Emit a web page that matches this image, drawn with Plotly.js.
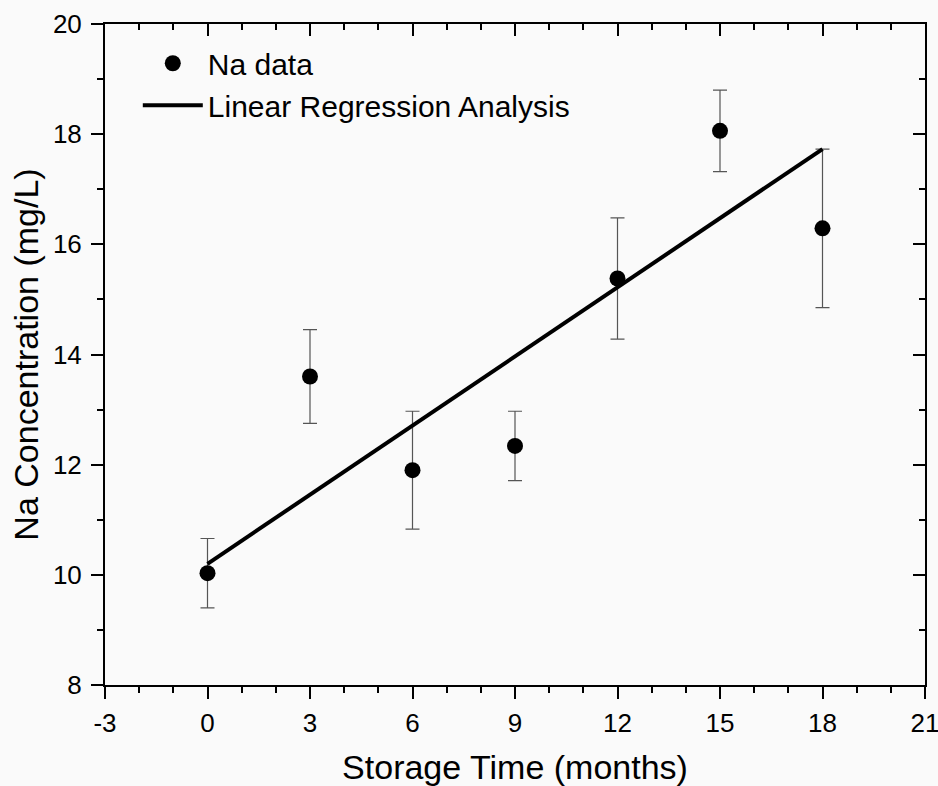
<!DOCTYPE html>
<html>
<head>
<meta charset="utf-8">
<script src="https://cdn.plot.ly/plotly-3.0.1.min.js"></script>
<style>html,body{margin:0;padding:0;background:#fafafa;}</style>
</head>
<body>
<div id="chart" style="width:938px;height:786px;"></div>
<script>
const months = [0, 3, 6, 9, 12, 15, 18];
const naConc = [10.03, 13.60, 11.90, 12.34, 15.38, 18.06, 16.29];
const naErr = [0.63, 0.85, 1.07, 0.63, 1.10, 0.74, 1.44];
const fitX = [0, 18];
const fitY = [10.20, 17.73];
const xTicks = [-3, 0, 3, 6, 9, 12, 15, 18, 21];
const xTickText = ['-3', '0', '3', '6', '9', '12', '15', '18', '21'];
const yTicks = [8, 10, 12, 14, 16, 18, 20];
const yTickText = ['8', '10', '12', '14', '16', '18', '20'];

const FONT = "Liberation Sans, Arial, sans-serif";

const traces = [
  {
    x: months, y: naConc, type: 'scatter', mode: 'markers', name: 'Na data',
    marker: {color: '#000', size: 16},
    error_y: {type: 'data', array: naErr, visible: true, color: '#555', thickness: 1.2, width: 7}
  },
  {
    x: fitX, y: fitY, type: 'scatter', mode: 'lines', name: 'Linear Regression Analysis',
    line: {color: '#000', width: 4}
  },
  {
    x: [0], y: [10], xaxis: 'x2', yaxis: 'y2', type: 'scatter', mode: 'markers',
    marker: {opacity: 0}, showlegend: false, hoverinfo: 'skip'
  }
];

const axBase = {
  showgrid: false, zeroline: false, showline: true, linecolor: '#000', linewidth: 2,
  ticklen: 12, tickwidth: 2, tickcolor: '#000'
};

const layout = {
  width: 938, height: 786,
  paper_bgcolor: '#fafafa', plot_bgcolor: '#fafafa',
  margin: {l: 105, r: 13, t: 24, b: 101},
  font: {family: FONT, color: '#000', size: 26},
  showlegend: true,
  legend: {x: 0.04, y: 0.98, xanchor: 'left', yanchor: 'top', bgcolor: 'rgba(0,0,0,0)',
           font: {size: 30, family: FONT}, tracegroupgap: 0, itemwidth: 60},
  xaxis: Object.assign({}, axBase, {
    range: [-3, 21], tickmode: 'array', tickvals: xTicks, ticktext: xTickText, ticks: 'outside',
    ticklabelstandoff: 2, ticklabeloverflow: 'allow',
    tickfont: {size: 26, family: FONT},
    minor: {dtick: 1, ticklen: 6, tickwidth: 2, tickcolor: '#000', ticks: 'outside'},
    title: {text: 'Storage Time (months)', font: {size: 34, family: FONT}, standoff: 18},
    automargin: false
  }),
  yaxis: Object.assign({}, axBase, {
    range: [8, 20], tickmode: 'array', tickvals: yTicks, ticktext: yTickText, ticks: 'outside',
    ticklabelstandoff: 4, ticklabeloverflow: 'allow',
    tickfont: {size: 26, family: FONT},
    minor: {dtick: 1, ticklen: 6, tickwidth: 2, tickcolor: '#000', ticks: 'outside'},
    title: {text: 'Na Concentration (mg/L)', font: {size: 34, family: FONT}, standoff: 4},
    automargin: false
  }),
  xaxis2: Object.assign({}, axBase, {
    overlaying: 'x', side: 'top', matches: 'x', range: [-3, 21], tickmode: 'array', tickvals: xTicks,
    ticks: 'inside', showticklabels: false,
    minor: {dtick: 1, ticklen: 6, tickwidth: 2, tickcolor: '#000', ticks: 'inside'}
  }),
  yaxis2: Object.assign({}, axBase, {
    overlaying: 'y', side: 'right', matches: 'y', range: [8, 20], tickmode: 'array', tickvals: yTicks,
    ticks: 'inside', showticklabels: false,
    minor: {dtick: 1, ticklen: 6, tickwidth: 2, tickcolor: '#000', ticks: 'inside'}
  })
};

Plotly.newPlot('chart', traces, layout, {displayModeBar: false, staticPlot: true});
</script>
</body>
</html>
